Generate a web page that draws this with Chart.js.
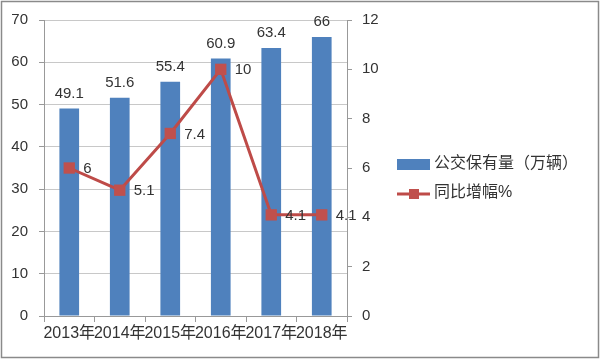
<!DOCTYPE html>
<html>
<head>
<meta charset="utf-8">
<script src="https://cdn.jsdelivr.net/npm/chart.js@4"></script>
<style>
  html, body { margin: 0; padding: 0; background: #fff; }
  #wrap { width: 600px; height: 359px; }
</style>
</head>
<body>
<div id="wrap"><canvas id="busChart" width="600" height="359"></canvas></div>
<script>
const years = ["2013年", "2014年", "2015年", "2016年", "2017年", "2018年"];
const busCount = [49.1, 51.6, 55.4, 60.9, 63.4, 66];
const growthRate = [6, 5.1, 7.4, 10, 4.1, 4.1];
const leftTicks = [0, 10, 20, 30, 40, 50, 60, 70];
const rightTicks = [0, 2, 4, 6, 8, 10, 12];

const FONT = "'Liberation Sans', 'Noto Sans CJK SC', sans-serif";
const TEXT = "#333";
const BLUE = "#4F81BD";
const RED = "#BE4B48";

// white background + outer frame
const framePlugin = {
    id: "frame",
    beforeDraw(chart) {
        let c = chart.ctx;
        c.save();
        c.fillStyle = "#fff";
        c.fillRect(0, 0, chart.width, chart.height);
        c.strokeStyle = "#8a8a8a";
        c.lineWidth = 1.5;
        c.strokeRect(1.5, 1.5, chart.width - 3, chart.height - 3);
        c.restore();
    }
};

// value labels: above bars, right of line points
const labelPlugin = {
    id: "valueLabels",
    afterDatasetsDraw(chart) {
        let c = chart.ctx;
        c.save();
        c.font = "15px " + FONT;
        c.fillStyle = TEXT;
        chart.getDatasetMeta(0).data.forEach((bar, i) => {
            c.textAlign = "center";
            c.textBaseline = "middle";
            c.fillText(String(busCount[i]), bar.x, bar.y - 15);
        });
        chart.getDatasetMeta(1).data.forEach((pt, i) => {
            c.textAlign = "left";
            c.textBaseline = "middle";
            c.fillText(String(growthRate[i]), pt.x + 14, pt.y + 1);
        });
        c.restore();
    }
};

// legend drawn in the right padding
const legendPlugin = {
    id: "sideLegend",
    afterDraw(chart) {
        let c = chart.ctx;
        let ds = chart.data.datasets;
        c.save();
        c.font = "16px " + FONT;
        c.textAlign = "left";
        c.textBaseline = "middle";
        // bar entry
        c.fillStyle = ds[0].backgroundColor;
        c.fillRect(397, 159, 33, 11);
        c.fillStyle = TEXT;
        c.fillText(ds[0].label, 434, 164);
        // line entry
        c.strokeStyle = ds[1].borderColor;
        c.lineWidth = 3;
        c.beginPath();
        c.moveTo(397, 194);
        c.lineTo(430, 194);
        c.stroke();
        c.fillStyle = ds[1].pointBackgroundColor;
        c.fillRect(409, 189, 10, 10);
        c.fillStyle = TEXT;
        c.fillText(ds[1].label, 434, 193);
        c.restore();
    }
};

let ctx = document.getElementById("busChart").getContext("2d");
let busChart = new Chart(ctx, {
    data: {
        labels: years,
        datasets: [
            {
                type: "bar",
                label: "公交保有量（万辆）",
                data: busCount,
                yAxisID: "y",
                backgroundColor: BLUE,
                categoryPercentage: 1,
                barPercentage: 0.39,
                order: 1
            },
            {
                type: "line",
                label: "同比增幅%",
                data: growthRate,
                yAxisID: "y1",
                borderColor: RED,
                borderWidth: 3,
                pointStyle: "rect",
                pointRadius: 8,
                pointHoverRadius: 8,
                pointBackgroundColor: "#C0504D",
                pointBorderColor: "#C0504D",
                pointBorderWidth: 0,
                tension: 0,
                order: 0
            }
        ]
    },
    options: {
        responsive: false,
        animation: false,
        layout: { padding: { top: 18, right: 213, left: 0, bottom: 0 } },
        plugins: { legend: { display: false }, tooltip: { enabled: false } },
        scales: {
            x: {
                offset: true,
                grid: { display: true, drawOnChartArea: false, offset: true, tickLength: 6, color: "#999" },
                border: { color: "#999" },
                ticks: { font: { size: 16, family: FONT }, color: TEXT, padding: 2, maxRotation: 0, autoSkip: false },
                afterFit(s) { s.height = 43; }
            },
            y: {
                position: "left",
                min: 0, max: 70,
                afterBuildTicks(s) { s.ticks = leftTicks.map(v => ({ value: v })); },
                grid: { color: "#c8c8c8", tickLength: 5, tickColor: "#999" },
                border: { color: "#999" },
                ticks: { font: { size: 15, family: FONT }, color: TEXT, padding: 11 },
                afterFit(s) { s.width = 44; }
            },
            y1: {
                position: "right",
                min: 0, max: 12,
                afterBuildTicks(s) { s.ticks = rightTicks.map(v => ({ value: v })); },
                grid: { drawOnChartArea: false, tickLength: 5, color: "#999" },
                border: { color: "#999" },
                ticks: { font: { size: 15, family: FONT }, color: TEXT, padding: 10 },
                afterFit(s) { s.width = 40; }
            }
        }
    },
    plugins: [framePlugin, labelPlugin, legendPlugin]
});
</script>
</body>
</html>
